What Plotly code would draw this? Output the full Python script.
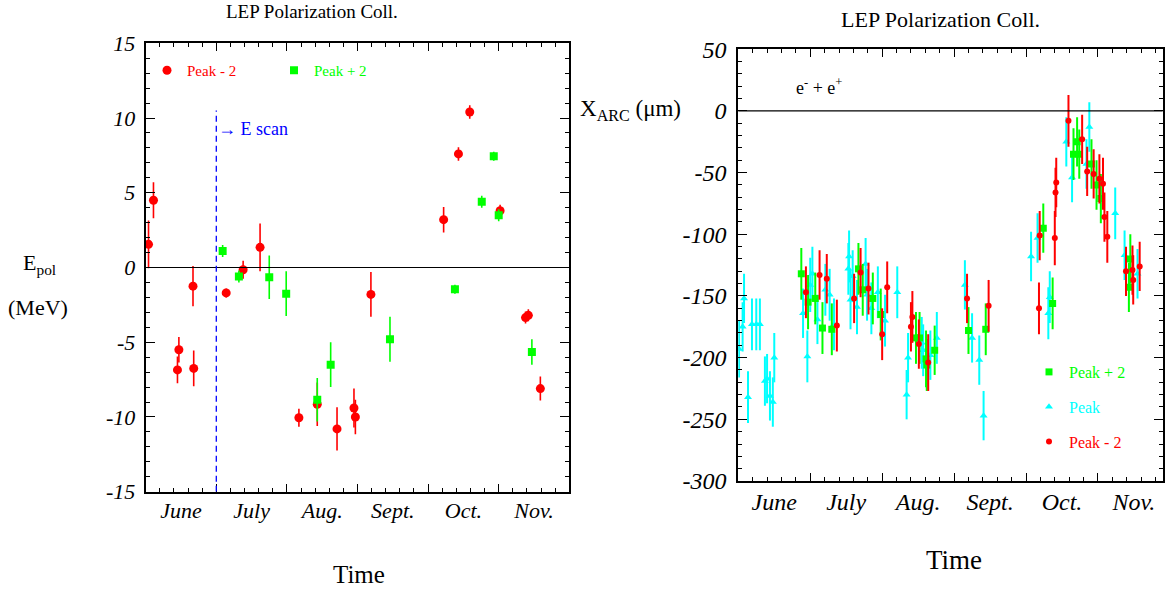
import plotly.graph_objects as go

FONT = "Liberation Serif"
RED, GREEN, CYAN, BLUE = "#ff0000", "#00ff00", "#00ffff", "#0000ff"

months = ["June", "July", "Aug.", "Sept.", "Oct.", "Nov."]
month_centres = [0.5, 1.5, 2.5, 3.5, 4.5, 5.5]

# ---------------- left panel: E_pol (MeV) vs time (months since 1 June) ----------------
lm2_x = [0.04, 0.11, 0.45, 0.47, 0.67, 0.68, 1.14, 1.38, 1.62, 2.17, 2.43, 2.71, 2.95, 2.97,
         3.19, 4.22, 4.43, 4.59, 5.02, 5.38, 5.42, 5.59]
lm2_y = [1.55, 4.5, -6.85, -5.5, -1.25, -6.75, -1.7, -0.15, 1.35, -10.05, -9.15, -10.8, -9.4, -10.0,
         -1.8, 3.2, 7.6, 10.4, 3.8, -3.35, -3.2, -8.1]
lm2_e = [1.6, 1.2, 0.9, 0.85, 1.35, 1.2, 0.3, 0.6, 1.6, 0.6, 1.45, 1.45, 1.3, 1.15,
         1.5, 0.85, 0.45, 0.45, 0.4, 0.4, 0.4, 0.8]

lp2_x = [1.09, 1.32, 1.75, 1.99, 2.43, 2.62, 3.46, 4.38, 4.76, 4.93, 5.0, 5.47]
lp2_y = [1.1, -0.6, -0.65, -1.75, -8.85, -6.5, -4.8, -1.45, 4.4, 7.45, 3.5, -5.65]
lp2_e = [0.4, 0.4, 1.45, 1.5, 1.45, 1.5, 1.5, 0.3, 0.4, 0.3, 0.4, 0.85]

escan_x = 1.0
escan_top = 10.5

# ---------------- right panel: X_ARC (um) vs time ----------------
pk_x = [0.01, 0.06, 0.08, 0.135, 0.19, 0.25, 0.30, 0.37, 0.40, 0.44, 0.48, 0.50,
        0.90, 0.96, 1.00, 1.03, 1.10, 1.21, 1.27, 1.33, 1.53, 1.54, 1.56, 1.59, 1.65,
        1.77, 1.79, 1.85, 1.94, 2.04, 2.21,
        2.34, 2.36, 2.55, 2.57, 2.67, 2.76,
        3.15, 3.25, 3.35, 3.41,
        4.07, 4.16, 4.31, 4.33, 4.56, 4.64, 4.84, 4.88, 5.24, 5.37, 5.55]
pk_y = [-193, -175, -152, -232, -173, -173, -173, -219, -217, -231, -236, -200,
        -164, -199, -141, -132, -169, -145, -149, -173, -128, -118, -153, -134, -159,
        -124, -149, -160, -147, -170, -147,
        -230, -200, -188, -194, -198, -184,
        -141, -184, -202, -247,
        -118, -103, -164, -151, -25, -54, -43, -13, -83, -117, -132]
pk_e = [23, 20, 20, 21, 21, 21, 21, 20, 20, 20, 20, 20,
        20, 21, 22, 22, 20, 21, 21, 21, 21, 21, 24, 21, 22,
        21, 21, 21, 21, 21, 21,
        20, 20, 21, 21, 20, 21,
        20, 20, 20, 20,
        20, 20, 21, 21, 20, 20, 20, 20, 21, 20, 20]

rp2_x = [0.876, 0.97, 1.07, 1.17, 1.30, 1.67, 1.73, 1.87, 1.98, 2.47, 2.52, 2.61, 2.62, 2.73,
         3.20, 3.44, 4.24, 4.37, 4.66, 4.71, 4.74, 4.91, 4.98, 5.04, 5.43, 5.45]
rp2_y = [-132, -155, -152, -176, -177, -128, -145, -152, -165, -184, -184, -201, -206, -194,
         -178, -177, -95, -156, -35, -25, -35, -43, -60, -71, -143, -120]
rp2_e = [21, 22, 21, 21, 21, 21, 21, 21, 21, 21, 21, 23, 21, 20,
         19, 21, 20, 21, 21, 20, 20, 20, 20, 20, 20, 20]

rm2_x = [0.94, 1.13, 1.23, 1.37, 1.61, 1.70, 1.81, 2.00, 2.07, 2.40, 2.42, 2.51, 2.64,
         3.18, 3.48, 4.18, 4.19, 4.40, 4.41, 4.42, 4.59, 4.78, 4.85, 4.94, 5.02, 5.07, 5.09,
         5.13, 5.39, 5.48, 5.49, 5.58]
rm2_y = [-147, -133, -136, -174, -152, -131, -144, -181, -143, -175, -167, -189, -204,
         -152, -158, -160, -101, -103, -66, -58, -8, -23, -49, -51, -55, -59, -86,
         -102, -130, -129, -137, -126]
rm2_e = [21, 20, 20, 21, 20, 20, 21, 21, 21, 20, 21, 20, 23,
         20, 21, 21, 20, 22, 20, 20, 21, 20, 20, 20, 20, 21, 20,
         21, 20, 20, 20, 20]

fig = go.Figure()


def pts(x, y, e, color, symbol, size, name, xa, ya, legend, rank, thick):
    return go.Scatter(
        x=x, y=y, mode="markers", xaxis=xa, yaxis=ya,
        marker=dict(color=color, symbol=symbol, size=size, line=dict(width=0)),
        error_y=dict(type="data", array=e, color=color, thickness=thick, width=0),
        name=f"<span style='color:{color}'>{name}</span>",
        legend=legend, legendrank=rank, legendgroup=f"{legend}{rank}",
    )


fig.add_trace(pts(lm2_x, lm2_y, lm2_e, RED, "circle", 9, "Peak - 2", "x", "y", "legend", 1, 1.6))
fig.add_trace(pts(lp2_x, lp2_y, lp2_e, GREEN, "square", 8, "Peak + 2", "x", "y", "legend", 2, 1.6))

fig.add_trace(pts(pk_x, pk_y, pk_e, CYAN, "triangle-up", 7, "Peak", "x2", "y2", "legend2", 2, 2))
fig.add_trace(pts(rp2_x, rp2_y, rp2_e, GREEN, "square", 7, "Peak + 2", "x2", "y2", "legend2", 1, 2))
fig.add_trace(pts(rm2_x, rm2_y, rm2_e, RED, "circle", 6, "Peak - 2", "x2", "y2", "legend2", 3, 2))

# empty traces so the month-label axes exist
fig.add_trace(go.Scatter(x=[], y=[], xaxis="x3", yaxis="y", showlegend=False))
fig.add_trace(go.Scatter(x=[], y=[], xaxis="x4", yaxis="y2", showlegend=False))

L_X = [145.7 / 1168, 569.3 / 1168]
L_Y = [1 - 491.7 / 589, 1 - 43.3 / 589]
R_X = [738.3 / 1168, 1162.7 / 1168]
R_Y = [1 - 481 / 589, 1 - 49.3 / 589]


def xax(dom, rng, anchor):
    return dict(domain=dom, range=rng, anchor=anchor, showgrid=False, zeroline=False,
                automargin=False,
                showline=True, linecolor="black", linewidth=2, mirror="ticks",
                ticks="inside", ticklen=8, tickwidth=1.2, tickcolor="black",
                tickvals=[0, 1, 2, 3, 4, 5, 6], showticklabels=False,
                minor=dict(ticks="inside", ticklen=4, dtick=0.2, tick0=0, tickcolor="black",
                           tickwidth=1, showgrid=False))


def yax(dom, rng, anchor, tv, mdt, fs, stand):
    return dict(domain=dom, range=rng, anchor=anchor, showgrid=False, zeroline=False,
                automargin=False,
                showline=True, linecolor="black", linewidth=2, mirror="ticks",
                ticks="inside", ticklen=9, tickwidth=1.2, tickcolor="black",
                tickvals=tv, ticktext=[str(v) for v in tv], ticklabelstandoff=stand,
                tickfont=dict(family=FONT, size=fs, color="black", style="italic"),
                minor=dict(ticks="inside", ticklen=4, dtick=mdt, tick0=0, tickcolor="black",
                           tickwidth=1, showgrid=False))


def mlab(over, rng, anchor, fs, stand):
    return dict(overlaying=over, range=rng, anchor=anchor, side="bottom", showgrid=False,
                automargin=False,
                zeroline=False, showline=False, ticks="", tickvals=month_centres,
                ticktext=months, ticklabelstandoff=stand,
                tickfont=dict(family=FONT, size=fs, color="black", style="italic"))


fig.update_layout(
    width=1168, height=589, autosize=False, margin=dict(l=0, r=0, t=0, b=0, pad=0),
    paper_bgcolor="white", plot_bgcolor="white",
    font=dict(family=FONT, color="black"),
    xaxis=xax(L_X, [0, 6], "y"),
    yaxis=yax(L_Y, [-15, 15], "x", [-15, -10, -5, 0, 5, 10, 15], 1, 22, 4),
    xaxis2=xax(R_X, [0, 5.9], "y2"),
    yaxis2=yax(R_Y, [-300, 50], "x2", [-300, -250, -200, -150, -100, -50, 0, 50], 10, 24, 5),
    xaxis3=mlab("x", [0, 6], "y", 22, 3),
    xaxis4=mlab("x2", [0, 5.9], "y2", 24, 4),
    showlegend=True,
    legend=dict(orientation="h", x=147 / 1168, y=1 - 54 / 589, xanchor="left", yanchor="top",
                bgcolor="rgba(0,0,0,0)", font=dict(family=FONT, size=15),
                entrywidth=82, entrywidthmode="pixels", itemwidth=30),
    legend2=dict(orientation="v", x=1029 / 1168, y=1 - 355 / 589, xanchor="left", yanchor="top",
                 bgcolor="rgba(0,0,0,0)", font=dict(family=FONT, size=16),
                 tracegroupgap=11, itemwidth=30),
)

# zero lines and E-scan marker
fig.add_shape(type="line", xref="x domain", yref="y", x0=0, x1=1, y0=0, y1=0,
              line=dict(color="black", width=1))
fig.add_shape(type="line", xref="x2 domain", yref="y2", x0=0, x1=1, y0=0, y1=0,
              line=dict(color="black", width=1.2))
fig.add_shape(type="line", xref="x", yref="y", x0=escan_x, x1=escan_x, y0=-15, y1=escan_top,
              line=dict(color=BLUE, width=1.3, dash="6px,4px"))

ann = [
    dict(text="LEP Polarization Coll.", x=312 / 1168, y=1 - 12 / 589, size=19),
    dict(text="LEP Polarization Coll.", x=940 / 1168, y=1 - 20 / 589, size=22),
    dict(text="Time", x=358.7 / 1168, y=1 - 574 / 589, size=25),
    dict(text="Time", x=954 / 1168, y=1 - 560 / 589, size=27),
    dict(text="E<sub>pol</sub>", x=39 / 1168, y=1 - 264 / 589, size=22),
    dict(text="(MeV)", x=38 / 1168, y=1 - 307 / 589, size=22),
    dict(text="X<sub>ARC</sub> (μm)", x=630 / 1168, y=1 - 110 / 589, size=23),
]
for a in ann:
    fig.add_annotation(text=a["text"], x=a["x"], y=a["y"], xref="paper", yref="paper",
                       xanchor="center", yanchor="middle", showarrow=False,
                       font=dict(family=FONT, size=a["size"], color="black"))

fig.add_annotation(text="→ E scan", x=escan_x, y=9.3, xref="x", yref="y", xanchor="left",
                   yanchor="middle", showarrow=False, xshift=0,
                   font=dict(family=FONT, size=18, color=BLUE))
fig.add_annotation(text="e<sup>-</sup> + e<sup>+</sup>", x=0.78, y=20, xref="x2", yref="y2",
                   xanchor="left", yanchor="middle", showarrow=False,
                   font=dict(family=FONT, size=18, color="black"))

fig.write_html("out.html", config={"displayModeBar": False},
               post_script="document.body.style.margin='0';")
